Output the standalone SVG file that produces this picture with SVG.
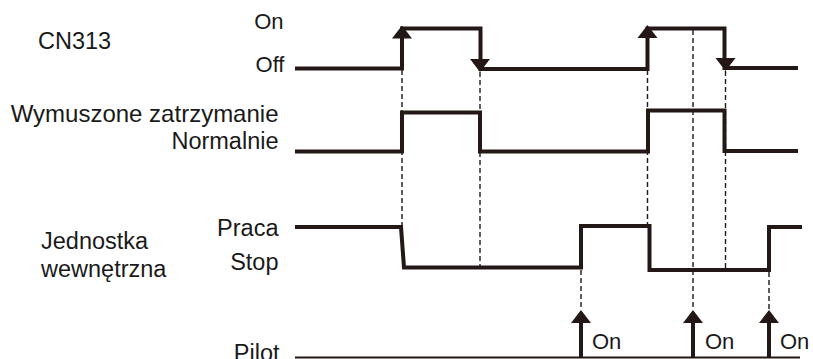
<svg xmlns="http://www.w3.org/2000/svg" width="813" height="359" viewBox="0 0 813 359">
<style>
text{font-family:"Liberation Sans",Arial,sans-serif;font-size:23.5px;fill:#1a1a1a}
.r{text-anchor:end}
.s{font-size:22px}
.w{fill:none;stroke:#231815;stroke-width:4;stroke-linejoin:miter}
.d{fill:none;stroke:#231815;stroke-width:1.4;stroke-dasharray:5 3}
.ah{fill:#231815}
</style>
<defs>
<path id="up" d="M0,0 L10,13 L-10,13 Z"/>
<path id="dn" d="M0,0 L10,-13 L-10,-13 Z"/>
</defs>
<g id="labels">
<text x="38" y="48.5">CN313</text>
<text class="r s" x="283.5" y="28.5">On</text>
<text class="r s" x="284.5" y="72">Off</text>
<text class="r" x="278.5" y="122" style="font-size:24px">Wymuszone zatrzymanie</text>
<text class="r" x="278.5" y="148.5">Normalnie</text>
<text x="41" y="248.5">Jednostka</text>
<text x="41" y="277">wewnętrzna</text>
<text class="r" x="278.5" y="236">Praca</text>
<text class="r" x="278.5" y="269.5">Stop</text>
<text class="r" x="279.5" y="361">Pilot</text>
</g>
<g id="guides">
<line class="d" x1="402" y1="70" x2="402" y2="226"/>
<line class="d" x1="480" y1="72" x2="480" y2="266"/>
<line class="d" x1="647.5" y1="70" x2="647.5" y2="225"/>
<line class="d" x1="693" y1="30" x2="693" y2="310"/>
<line class="d" x1="725.5" y1="71" x2="725.5" y2="268"/>
<line class="d" x1="581" y1="270" x2="581" y2="310"/>
<line class="d" x1="769" y1="272" x2="769" y2="310"/>
</g>
<g id="cn313">
<path class="w" d="M295,68.5 H402 V28.5 H480.5 V69 H647.5 V28.5 H724.5 V68 H798"/>
<use class="ah" href="#up" x="402" y="25.5"/>
<use class="ah" href="#up" x="647.5" y="25"/>
<use class="ah" href="#dn" x="480" y="72"/>
<use class="ah" href="#dn" x="725.5" y="71"/>
</g>
<g id="wymuszone">
<path class="w" d="M295,151.5 H402 V112.5 H480 V151.5 H648 V110.5 H724.5 V151 H798"/>
</g>
<g id="jednostka">
<path class="w" d="M295,227 H401 L404,267.5 H581 V226 H649.5 V270 H769 V227 H802"/>
</g>
<g id="pilot">
<line x1="295" y1="357.5" x2="800" y2="357.5" stroke="#231815" stroke-width="2"/>
<line x1="581" y1="322" x2="581" y2="357" stroke="#231815" stroke-width="4"/>
<line x1="693" y1="322" x2="693" y2="357" stroke="#231815" stroke-width="4"/>
<line x1="769" y1="322" x2="769" y2="357" stroke="#231815" stroke-width="4"/>
<use class="ah" href="#up" x="581" y="310"/>
<use class="ah" href="#up" x="693" y="310"/>
<use class="ah" href="#up" x="769" y="310"/>
<text class="s" x="592" y="348.5">On</text>
<text class="s" x="705" y="348.5">On</text>
<text class="s" x="780" y="348.5">On</text>
</g>
</svg>
